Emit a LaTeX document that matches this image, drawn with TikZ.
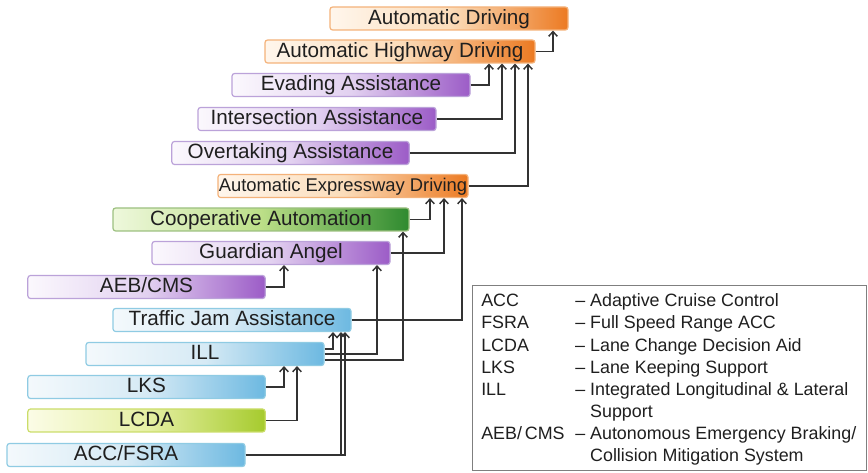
\documentclass[tikz,border=0pt]{standalone}
\usepackage{fontspec}
\setmainfont{Liberation Sans}
\usetikzlibrary{arrows.meta}

\definecolor{orangeL}{HTML}{FFF6EC}
\definecolor{orangeM}{HTML}{FBDDBB}
\definecolor{orangeR}{HTML}{EC7A22}
\definecolor{orangeB}{HTML}{F4B27A}
\definecolor{purpleL}{HTML}{FBF8FD}
\definecolor{purpleM}{HTML}{E2D1F0}
\definecolor{purpleR}{HTML}{9C5CC7}
\definecolor{purpleB}{HTML}{BBA2D9}
\definecolor{greenL}{HTML}{EEF8DC}
\definecolor{greenM}{HTML}{BCDF88}
\definecolor{greenR}{HTML}{2F8A2F}
\definecolor{greenB}{HTML}{9CC080}
\definecolor{blueL}{HTML}{F4F9FC}
\definecolor{blueM}{HTML}{D6EAF5}
\definecolor{blueR}{HTML}{6DB9E1}
\definecolor{blueB}{HTML}{8FCBE3}
\definecolor{limeL}{HTML}{FBFCE6}
\definecolor{limeM}{HTML}{E6F0A4}
\definecolor{limeR}{HTML}{A6CB2E}
\definecolor{limeB}{HTML}{CBDD6A}
\definecolor{legendgray}{HTML}{7F7F7F}

\begin{document}
\begin{tikzpicture}[x=0.75pt, y=-0.75pt,
    box/.style={rectangle, rounded corners=2pt, minimum height=17.25pt, inner sep=0pt,
      text height=11.5pt, text depth=2.5pt,
      line width=0.9pt, text=black!88, font=\fontsize{15.5}{18}\selectfont},
    orangebox/.style={box, draw=orangeB, left color=orangeL, right color=orangeR, middle color=orangeM},
    purplebox/.style={box, draw=purpleB, left color=purpleL, right color=purpleR, middle color=purpleM},
    greenbox/.style={box, draw=greenB, left color=greenL, right color=greenR, middle color=greenM},
    bluebox/.style={box, draw=blueB, left color=blueL, right color=blueR, middle color=blueM},
    limebox/.style={box, draw=limeB, left color=limeL, right color=limeR, middle color=limeM},
    conn/.style={->, >={Straight Barb[length=3.5pt,width=6.5pt]}, draw=black!80, line width=1.1pt}]
  \useasboundingbox (0,0) rectangle (868,473);

  % Functions, from the top level down
  \node[orangebox, minimum width=178.5pt] (ad) at (449,18.5) {Automatic Driving};
  \node[orangebox, minimum width=202.5pt] (ahd) at (400,51.5) {Automatic Highway Driving};
  \node[purplebox, minimum width=178.5pt] (ea) at (351,85) {Evading Assistance};
  \node[purplebox, minimum width=178.5pt] (ia) at (317,119) {Intersection Assistance};
  \node[purplebox, minimum width=178pt] (oa) at (290.5,153) {Overtaking Assistance};
  \node[orangebox, minimum width=187.5pt, font=\fontsize{13.8}{16}\selectfont] (aed) at (343,186) {Automatic Expressway Driving};
  \node[greenbox, minimum width=222pt] (ca) at (261,219.5) {Cooperative Automation};
  \node[purplebox, minimum width=178.5pt] (ga) at (271,253) {Guardian Angel};
  \node[purplebox, minimum width=178pt] (aeb) at (146.5,287) {AEB/CMS};
  \node[bluebox, minimum width=178.5pt] (tja) at (232,320) {Traffic Jam Assistance};
  \node[bluebox, minimum width=178.5pt] (ill) at (205,354) {ILL};
  \node[bluebox, minimum width=178pt] (lks) at (146.5,387) {LKS};
  \node[limebox, minimum width=178pt] (lcda) at (146.5,420.5) {LCDA};
  \node[bluebox, minimum width=178.5pt] (acc) at (126,455) {ACC/FSRA};

  % Connectors into the two top levels
  \draw[conn] (ahd.east) -| (553,0 |- ad.south);
  \foreach \n/\x in {ea/489, ia/502, oa/515, aed/528}
    \draw[conn] (\n.east) -| (\x,0 |- ahd.south);
  \foreach \n/\x in {ca/430, ga/444, tja/462}
    \draw[conn] (\n.east) -| (\x,0 |- aed.south);

  % Connectors in the lower part
  \draw[conn] (aeb.east) -| (284,0 |- ga.south);
  \draw[conn] (ill.east) -| (377,0 |- ga.south);
  \draw[conn] ([yshift=-4.5pt]ill.east) -| (403,0 |- ca.south);
  \draw[conn] ([yshift=3.75pt]ill.east) -| (333,0 |- tja.south);
  \draw[conn] (acc.east) -| (341,0 |- tja.south);
  \draw[conn] (acc.east) -| (345,0 |- tja.south);
  \draw[conn] (lks.east) -| (284,0 |- ill.south);
  \draw[conn] (lcda.east) -| (297,0 |- ill.south);

  % Legend
  \node[draw=legendgray, line width=1.1pt, anchor=north west, inner sep=0pt,
    minimum width=295.5pt, minimum height=138.75pt] (legend) at (472,285) {};
  \node[anchor=north west, inner sep=0pt, text=black!88,
    font=\fontsize{13.4}{16.6}\selectfont] (legendtext) at (481,291) {%
    \begin{tabular}{@{}p{70.5pt}@{}l@{}}
      ACC & -- Adaptive Cruise Control\\
      FSRA & -- Full Speed Range ACC\\
      LCDA & -- Lane Change Decision Aid\\
      LKS & -- Lane Keeping Support\\
      ILL & -- Integrated Longitudinal \& Lateral\\
          & \hphantom{-- }Support\\
      AEB/\,CMS & -- Autonomous Emergency Braking/\\
          & \hphantom{-- }Collision Mitigation System
    \end{tabular}};
\end{tikzpicture}
\end{document}
